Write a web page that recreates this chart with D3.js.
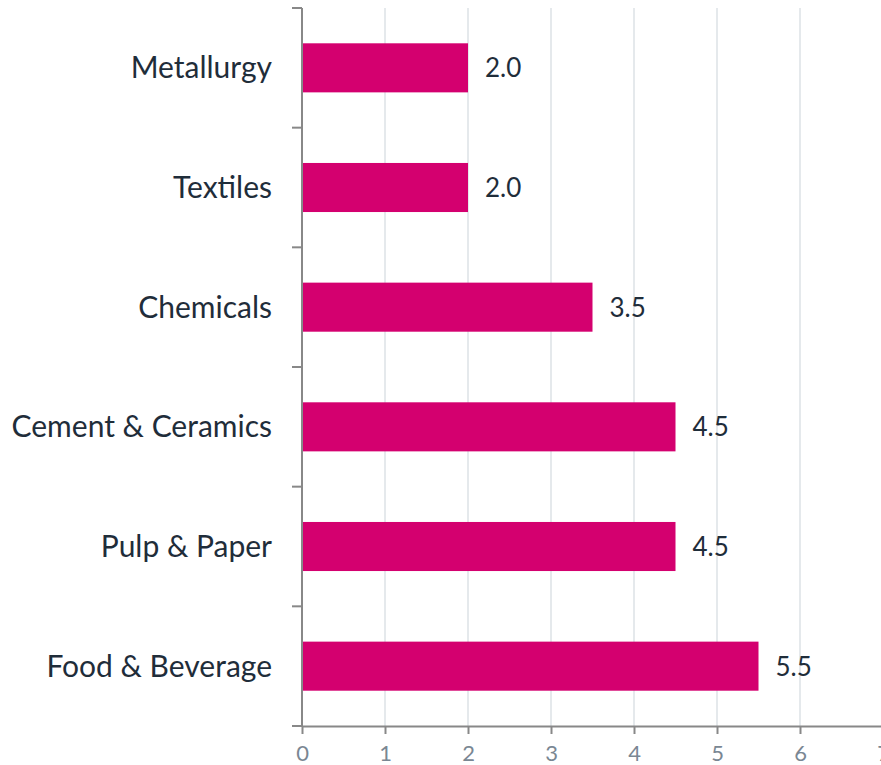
<!DOCTYPE html>
<html>
<head>
<meta charset="utf-8">
<script src="https://cdn.jsdelivr.net/npm/d3@7"></script>
<style>
body{margin:0;background:#fff;overflow:hidden;}
svg{display:block;font-family:Lato,"Noto Sans",sans-serif;}
</style>
</head>
<body>
<div id="chart"></div>
<script>
const categories=["Metallurgy","Textiles","Chemicals","Cement & Ceramics","Pulp & Paper","Food & Beverage"]
const values=[2.0,2.0,3.5,4.5,4.5,5.5]
const xTicks=[0,1,2,3,4,5,6,7]

const width=881
const height=765
const margin={top:8,right:-2,bottom:39,left:302}

const svg=d3.select("#chart")
.append("svg")
.attr("width",width)
.attr("height",height)

const x=d3.scaleLinear()
.domain([0,7])
.range([margin.left,width-margin.right])

const y=d3.scaleBand()
.domain(categories)
.range([margin.top,height-margin.bottom])
.paddingInner(0.59)
.paddingOuter(0.295)

// gridlines
svg.append("g")
.selectAll("line")
.data(xTicks.filter(d=>d>0))
.enter()
.append("line")
.attr("x1",d=>x(d))
.attr("x2",d=>x(d))
.attr("y1",margin.top)
.attr("y2",height-margin.bottom)
.attr("stroke","#dde2e6")
.attr("stroke-width",1.5)

// bars
svg.append("g")
.selectAll("rect")
.data(categories)
.enter()
.append("rect")
.attr("x",x(0))
.attr("y",d=>y(d))
.attr("width",(d,i)=>x(values[i])-x(0))
.attr("height",y.bandwidth())
.attr("fill","#d4006f")

// value labels
svg.append("g")
.selectAll("text")
.data(categories)
.enter()
.append("text")
.attr("x",(d,i)=>x(values[i])+17)
.attr("y",d=>y(d)+y.bandwidth()/2)
.attr("dy","0.36em")
.attr("font-size",26)
.attr("fill","#1f2d3a")
.text((d,i)=>values[i].toFixed(1))

// x axis
const xAxis=svg.append("g")
.attr("transform",`translate(0,${height-margin.bottom})`)
.call(d3.axisBottom(x).tickValues(xTicks).tickFormat(d3.format("d")).tickSize(8).tickPadding(11).tickSizeOuter(0))
xAxis.select(".domain").attr("stroke","#888").attr("stroke-width",2)
xAxis.selectAll(".tick line").attr("stroke","#888").attr("stroke-width",2)
xAxis.selectAll(".tick text").attr("font-size",22).attr("fill","#7a8793").attr("font-family","Lato,sans-serif")

// y axis with ticks at band boundaries
const yAxis=svg.append("g")
yAxis.append("line")
.attr("x1",margin.left)
.attr("x2",margin.left)
.attr("y1",margin.top)
.attr("y2",height-margin.bottom)
.attr("stroke","#888")
.attr("stroke-width",2)

const step=y.step()
const boundaries=d3.range(categories.length+1).map(i=>y.range()[0]+i*step)
yAxis.selectAll(".ytick")
.data(boundaries)
.enter()
.append("line")
.attr("x1",margin.left-10)
.attr("x2",margin.left)
.attr("y1",d=>d)
.attr("y2",d=>d)
.attr("stroke","#888")
.attr("stroke-width",2)

yAxis.selectAll(".ylabel")
.data(categories)
.enter()
.append("text")
.attr("x",margin.left-30)
.attr("y",d=>y(d)+y.bandwidth()/2)
.attr("dy","0.35em")
.attr("text-anchor","end")
.attr("font-size",30)
.attr("fill","#1f2d3a")
.text(d=>d)
</script>
</body>
</html>
